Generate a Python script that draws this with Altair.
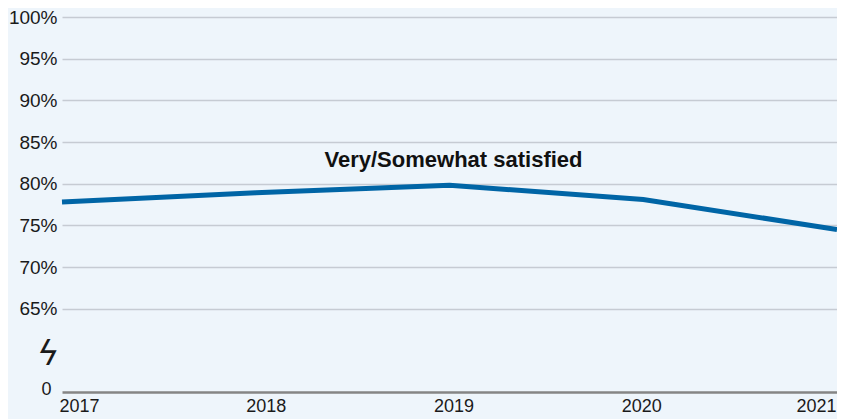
import altair as alt
import pandas as pd

years = [2017, 2018, 2019, 2020, 2021]
satisfied = [77.8, 78.9, 79.8, 78.1, 74.5]
series_label = ["Very/Somewhat satisfied"]
label_year = [2019]
label_value = [82.0]
y_ticks = [55, 60, 65, 70, 75, 80, 85, 90, 95, 100]

df = pd.DataFrame({"year": years, "value": satisfied})
ann = pd.DataFrame({"year": label_year, "value": label_value, "text": series_label})

x_scale = alt.Scale(domain=[2017, 2021], nice=False, zero=False)
y_scale = alt.Scale(domain=[55, 100], nice=False, zero=False)

x_axis = alt.Axis(
    title=None,
    values=years,
    format="d",
    grid=False,
    ticks=False,
    domain=True,
    domainColor="#858585",
    domainWidth=2.5,
    labelFont="Liberation Sans",
    labelFontSize=18,
    labelColor="#1a1a1a",
    labelPadding=5,
    labelFlush=False,
    labelOverlap=False,
    labelBound=False,
    labelOffset={
        "condition": [
            {"test": "datum.value == 2017", "value": 17},
            {"test": "datum.value == 2018", "value": 10},
            {"test": "datum.value == 2019", "value": 4},
            {"test": "datum.value == 2020", "value": -2},
            {"test": "datum.value == 2021", "value": -21},
        ],
        "value": 0,
    },
)

y_axis = alt.Axis(
    title=None,
    values=y_ticks,
    labelExpr="datum.value == 55 ? '0' : (datum.value == 60 ? 'ϟ' : datum.value + '%')",
    grid=True,
    gridColor="#c6cbd3",
    gridWidth=1.5,
    gridOpacity={"condition": {"test": "datum.value < 65", "value": 0}, "value": 1},
    ticks=False,
    domain=False,
    labelFont={"condition": {"test": "datum.value == 60", "value": "DejaVu Sans"}, "value": "Liberation Sans"},
    labelFontStyle={"condition": {"test": "datum.value == 60", "value": "italic"}, "value": "normal"},
    labelFontSize={
        "condition": [
            {"test": "datum.value == 60", "value": 34},
            {"test": "datum.value == 55", "value": 18},
        ],
        "value": 19,
    },
    labelOffset={
        "condition": [
            {"test": "datum.value == 60", "value": 4},
            {"test": "datum.value == 55", "value": -3},
        ],
        "value": 0,
    },
    labelPadding={
        "condition": [
            {"test": "datum.value == 55", "value": 11},
            {"test": "datum.value == 60", "value": 3},
        ],
        "value": 5,
    },
    labelColor="#1a1a1a",
    labelFlush=False,
    labelOverlap=False,
)

line = alt.Chart(df).mark_line(color="#0065a6", strokeWidth=5, strokeCap="butt").encode(
    x=alt.X("year:Q", scale=x_scale, axis=x_axis),
    y=alt.Y("value:Q", scale=y_scale, axis=y_axis),
)

text = alt.Chart(ann).mark_text(
    font="Liberation Sans", fontSize=22, fontWeight="bold", color="#111111",
    align="center", baseline="alphabetic", dx=4,
).encode(
    x=alt.X("year:Q", scale=x_scale),
    y=alt.Y("value:Q", scale=y_scale),
    text="text:N",
)

chart = alt.layer(line, text).properties(
    width=775,
    height=375,
    background="#eef5fb",
    autosize=alt.AutoSizeParams(type="none"),
    padding={"left": 54, "top": 9, "right": 0, "bottom": 27},
).configure_view(stroke=None)

chart.save("out.html", embed_options={"renderer": "svg", "actions": False})
